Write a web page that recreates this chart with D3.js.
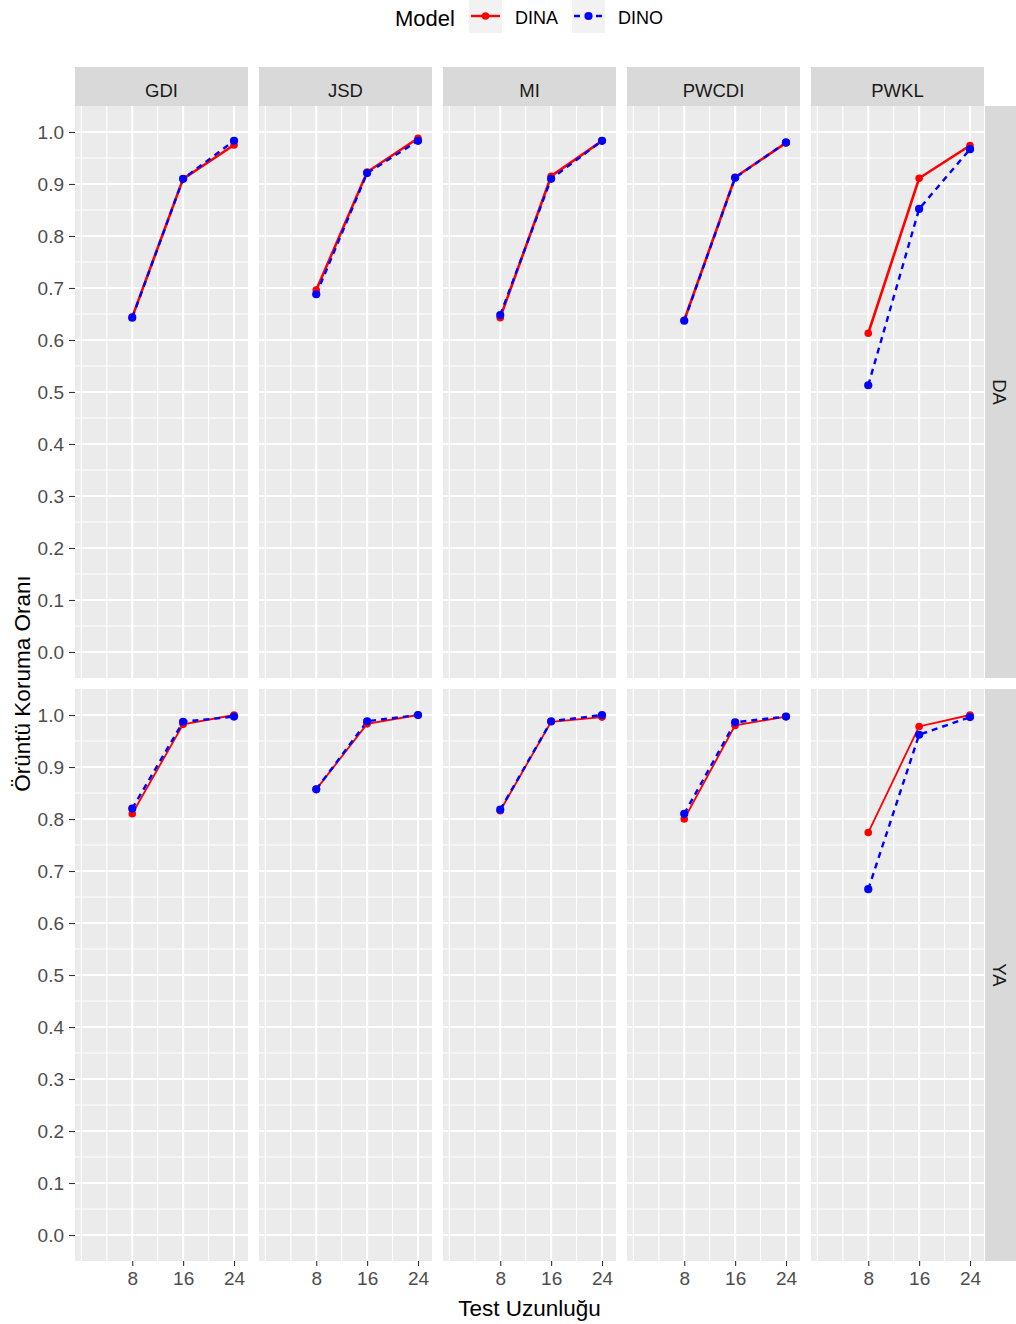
<!DOCTYPE html>
<html>
<head>
<meta charset="utf-8">
<script src="https://cdn.jsdelivr.net/npm/d3@7"></script>
<style>
  body { margin: 0; background: #fff; }
  svg text { font-family: "Liberation Sans", Arial, sans-serif; }
</style>
</head>
<body>
<svg id="chart" width="1016" height="1324"></svg>
<script>
/* Facetted line chart — pattern preservation ratio by test length */

// ---- data ----
const methods = ['GDI', 'JSD', 'MI', 'PWCDI', 'PWKL'];
const conditions = ['DA', 'YA'];
const models = ['DINA', 'DINO'];
const testLengths = [8, 16, 24];
const xTickValues = [8, 16, 24];
const yTickValues = [0, 0.1, 0.2, 0.3, 0.4, 0.5, 0.6, 0.7, 0.8, 0.9, 1.0];

// one row per method (GDI, JSD, MI, PWCDI, PWKL), values at 8, 16, 24
const dinaDA = [
  [0.644, 0.910, 0.975],
  [0.696, 0.923, 0.988],
  [0.643, 0.915, 0.983],
  [0.638, 0.913, 0.979],
  [0.613, 0.911, 0.974]
];
const dinoDA = [
  [0.643, 0.910, 0.983],
  [0.688, 0.921, 0.983],
  [0.648, 0.910, 0.983],
  [0.637, 0.912, 0.980],
  [0.513, 0.852, 0.967]
];
const dinaYA = [
  [0.810, 0.982, 1.000],
  [0.857, 0.983, 1.000],
  [0.816, 0.987, 0.996],
  [0.800, 0.980, 0.997],
  [0.774, 0.978, 1.000]
];
const dinoYA = [
  [0.820, 0.987, 0.997],
  [0.857, 0.988, 1.000],
  [0.818, 0.988, 1.000],
  [0.810, 0.986, 0.997],
  [0.665, 0.962, 0.996]
];

// ---- layout ----
const panelLeft = 75;
const panelW = 173;
const colStep = 184;
const rowTops = [106, 689];
const panelH = 572;
const stripTop = 67;
const stripH = 39;
const rightStripW = 31;

const MODEL_STYLE = {
  DINA: { color: '#FF0000', dash: null, r: 3.8 },
  DINO: { color: '#0000FF', dash: '6,5', r: 4.1 }
};
const LINE_W = { DA: { DINA: 2.6, DINO: 2.4 }, YA: { DINA: 1.8, DINO: 2.4 } };

const seriesFor = {
  DA: { DINA: dinaDA, DINO: dinoDA },
  YA: { DINA: dinaYA, DINO: dinoYA }
};

const svg = d3.select('#chart');

const x = d3.scaleLinear().domain([-1.0, 26.2]).range([0, panelW]);
const y = d3.scaleLinear().domain([-0.05, 1.05]).range([panelH, 0]);

const xMajor = xTickValues;
const xMinor = [0, 4, 12, 20];
const yMinor = d3.range(0.05, 1.05, 0.1);

// ---- top strips ----
methods.forEach((m, ci) => {
  const sx = panelLeft + ci * colStep;
  svg.append('rect')
    .attr('x', sx).attr('y', stripTop)
    .attr('width', panelW).attr('height', stripH)
    .attr('fill', '#D9D9D9');
  svg.append('text')
    .attr('x', sx + panelW / 2).attr('y', stripTop + 30)
    .attr('text-anchor', 'middle')
    .attr('font-size', 18.5).attr('fill', '#1A1A1A')
    .text(m);
});

// ---- panels ----
conditions.forEach((cond, ri) => {
  const top = rowTops[ri];

  // right strip
  const rsx = panelLeft + 4 * colStep + panelW + 1;
  svg.append('rect')
    .attr('x', rsx).attr('y', top)
    .attr('width', rightStripW).attr('height', panelH)
    .attr('fill', '#D9D9D9');
  svg.append('text')
    .attr('transform', `translate(${rsx + 8},${top + panelH / 2}) rotate(90)`)
    .attr('text-anchor', 'middle')
    .attr('font-size', 18.5).attr('fill', '#1A1A1A')
    .text(cond);

  methods.forEach((m, ci) => {
    const g = svg.append('g')
      .attr('transform', `translate(${panelLeft + ci * colStep},${top})`);

    g.append('rect')
      .attr('width', panelW).attr('height', panelH)
      .attr('fill', '#EBEBEB');

    // minor grid
    g.selectAll('.ymin').data(yMinor).enter().append('line')
      .attr('x1', 0).attr('x2', panelW)
      .attr('y1', d => y(d)).attr('y2', d => y(d))
      .attr('stroke', '#fff').attr('stroke-width', 1.1);
    g.selectAll('.xmin').data(xMinor).enter().append('line')
      .attr('y1', 0).attr('y2', panelH)
      .attr('x1', d => x(d)).attr('x2', d => x(d))
      .attr('stroke', '#fff').attr('stroke-width', 1.1);

    // major grid
    g.selectAll('.ymaj').data(yTickValues).enter().append('line')
      .attr('x1', 0).attr('x2', panelW)
      .attr('y1', d => y(d)).attr('y2', d => y(d))
      .attr('stroke', '#fff').attr('stroke-width', 2.1);
    g.selectAll('.xmaj').data(xMajor).enter().append('line')
      .attr('y1', 0).attr('y2', panelH)
      .attr('x1', d => x(d)).attr('x2', d => x(d))
      .attr('stroke', '#fff').attr('stroke-width', 2.1);

    // lines first, then points (like ggplot layers)
    const line = d3.line().x((d, i) => x(testLengths[i])).y(d => y(d));
    models.forEach(mod => {
      const vals = seriesFor[cond][mod][ci];
      const st = MODEL_STYLE[mod];
      g.append('path')
        .attr('d', line(vals))
        .attr('fill', 'none')
        .attr('stroke', st.color)
        .attr('stroke-width', LINE_W[cond][mod])
        .attr('stroke-dasharray', st.dash);
    });
    models.forEach(mod => {
      const vals = seriesFor[cond][mod][ci];
      const st = MODEL_STYLE[mod];
      g.selectAll(null).data(vals).enter().append('circle')
        .attr('cx', (d, i) => x(testLengths[i]))
        .attr('cy', d => y(d))
        .attr('r', st.r)
        .attr('fill', st.color);
    });

    // y axis on first column
    if (ci === 0) {
      const ya = svg.append('g')
        .attr('transform', `translate(${panelLeft},${top})`)
        .call(d3.axisLeft(y).tickValues(yTickValues).tickFormat(d3.format('.1f'))
          .tickSize(6).tickPadding(5));
      ya.select('.domain').remove();
      ya.selectAll('line').attr('stroke', '#333').attr('stroke-width', 1.1);
      ya.selectAll('text').attr('font-size', 19).attr('fill', '#4D4D4D')
        .attr('font-family', '"Liberation Sans", Arial, sans-serif');
    }

    // x axis on bottom row
    if (ri === conditions.length - 1) {
      const xa = svg.append('g')
        .attr('transform', `translate(${panelLeft + ci * colStep},${top + panelH})`)
        .call(d3.axisBottom(x).tickValues(xTickValues).tickSize(5).tickPadding(6));
      xa.select('.domain').remove();
      xa.selectAll('line').attr('stroke', '#333').attr('stroke-width', 1.1);
      xa.selectAll('text').attr('font-size', 19).attr('fill', '#4D4D4D')
        .attr('font-family', '"Liberation Sans", Arial, sans-serif');
    }
  });
});

// ---- axis titles ----
svg.append('text')
  .attr('x', panelLeft + (4 * colStep + panelW) / 2).attr('y', 1316)
  .attr('text-anchor', 'middle').attr('font-size', 22.5).attr('fill', '#000')
  .text('Test Uzunluğu');
svg.append('text')
  .attr('transform', `translate(30,${(rowTops[0] + rowTops[1] + panelH) / 2}) rotate(-90)`)
  .attr('text-anchor', 'middle').attr('font-size', 22.5).attr('fill', '#000')
  .text('Örüntü Koruma Oranı');

// ---- legend ----
const legend = svg.append('g');
legend.append('text')
  .attr('x', 395).attr('y', 26)
  .attr('font-size', 22).attr('fill', '#000')
  .text('Model');

const keyX = [469, 572];
models.forEach((mod, i) => {
  const st = MODEL_STYLE[mod];
  const kx = keyX[i];
  legend.append('rect')
    .attr('x', kx).attr('y', 0).attr('width', 33).attr('height', 33)
    .attr('fill', '#F2F2F2');
  legend.append('line')
    .attr('x1', kx + 2).attr('x2', kx + 31)
    .attr('y1', 16).attr('y2', 16)
    .attr('stroke', st.color).attr('stroke-width', 2.4)
    .attr('stroke-dasharray', st.dash);
  legend.append('circle')
    .attr('cx', kx + 16.5).attr('cy', 16).attr('r', st.r)
    .attr('fill', st.color);
  legend.append('text')
    .attr('x', kx + 46).attr('y', 24)
    .attr('font-size', 18).attr('fill', '#000')
    .text(mod);
});
</script>
</body>
</html>
